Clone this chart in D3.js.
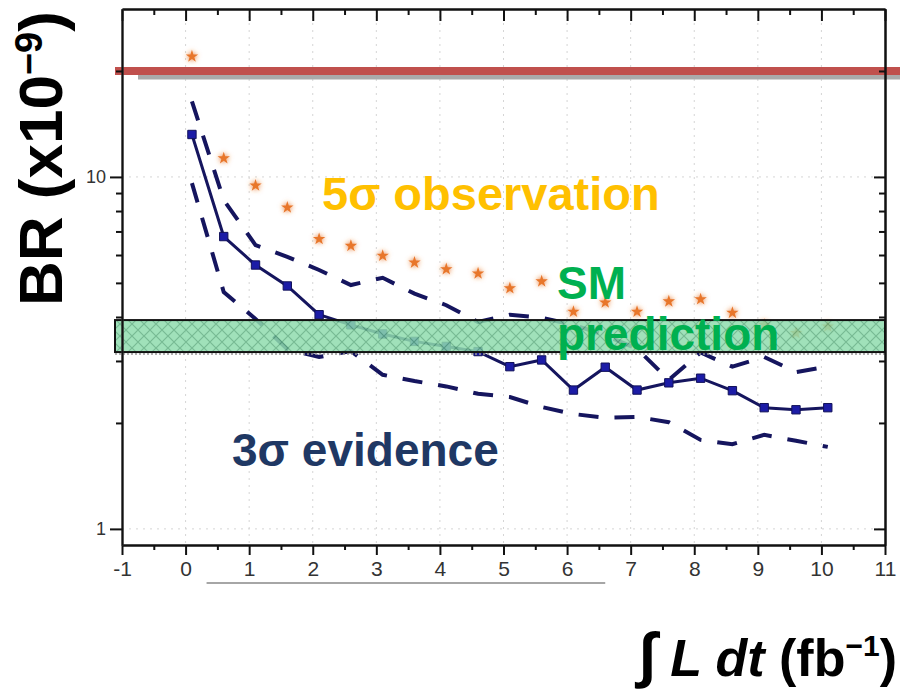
<!DOCTYPE html>
<html><head><meta charset="utf-8">
<script src="https://cdn.jsdelivr.net/npm/d3@7"></script>
<style>body{margin:0;background:#fff} svg{display:block}</style>
</head><body>
<svg id="c" width="900" height="692"></svg>
<script>
// ---- data ----
const lumi = [0.1,0.6,1.1,1.6,2.1,2.6,3.1,3.6,4.1,4.6,5.1,5.6,6.1,6.6,7.1,7.6,8.1,8.6,9.1,9.6,10.1];
const evidenceMedian = [13.2,6.77,5.62,4.90,4.06,3.80,3.58,3.41,3.30,3.19,2.89,3.02,2.48,2.88,2.48,2.60,2.68,2.47,2.21,2.18,2.21];
const evidenceUpper  = [16.4,8.6,6.4,5.93,5.44,4.93,5.17,4.66,4.32,3.87,4.06,3.98,3.80,3.55,3.25,2.65,3.17,2.89,3.08,2.79,2.89];
const evidenceLower  = [9.6,4.71,3.95,3.24,3.08,3.20,2.74,2.63,2.54,2.42,2.37,2.22,2.12,2.07,2.08,2.01,1.79,1.74,1.85,1.78,1.71];
const observation5s  = [22.0,11.3,9.45,8.19,6.66,6.37,5.97,5.71,5.47,5.32,4.83,5.05,4.14,4.40,4.14,4.43,4.49,4.11,3.80,3.60,3.76];
const smBand = [3.18, 3.92];
const limitLine = 20;
const xMajorTicks = [-1,0,1,2,3,4,5,6,7,8,9,10,11];
const xMinorTicks = [-0.5,0.5,1.5,2.5,3.5,4.5,5.5,6.5,7.5,8.5,9.5,10.5];
const yMajorTicks = [1,10];
const yMinorTicks = [2,3,4,5,6,7,8,9,20];

// ---- layout ----
const svg = d3.select('#c');
const L = 122, R = 885, T = 9, B = 545;
const x = d3.scaleLinear().domain([-1, 11]).range([L, R]);
const y = d3.scaleLog().domain([0.9, 30]).range([B, T]);

const defs = svg.append('defs');
const glow = defs.append('filter').attr('id','glow').attr('x','-1').attr('y','-1').attr('width','3').attr('height','3');
glow.append('feGaussianBlur').attr('in','SourceGraphic').attr('stdDeviation',2.5).attr('result','b');
const fm = glow.append('feMerge');
fm.append('feMergeNode').attr('in','b');
fm.append('feMergeNode').attr('in','SourceGraphic');

// grid
const grid = svg.append('g').attr('stroke','#d5d5d5').attr('stroke-width',1).attr('stroke-dasharray','2,5');
grid.selectAll('line.v').data(xMajorTicks.slice(1,-1)).join('line')
  .attr('x1',d=>x(d)).attr('x2',d=>x(d)).attr('y1',T).attr('y2',B);
grid.selectAll('line.h').data(yMajorTicks).join('line')
  .attr('x1',L).attr('x2',R).attr('y1',d=>y(d)).attr('y2',d=>y(d));

// 5 sigma stars
svg.append('g').selectAll('path').data(lumi).join('path')
  .attr('transform',(d,i)=>`translate(${x(d)},${y(observation5s[i])})`)
  .attr('d', d3.symbol(d3.symbolStar, 48))
  .attr('fill','#e8762a').attr('filter','url(#glow)');

// 3 sigma band lines
const line = (arr)=>d3.line().x((d,i)=>x(d)).y((d,i)=>y(arr[i]))(lumi);
svg.append('path').attr('d',line(evidenceUpper)).attr('fill','none')
  .attr('stroke','#15155e').attr('stroke-width',4).attr('stroke-dasharray','20,16');
svg.append('path').attr('d',line(evidenceLower)).attr('fill','none')
  .attr('stroke','#15155e').attr('stroke-width',4).attr('stroke-dasharray','20,16');
svg.append('path').attr('d',line(evidenceMedian)).attr('fill','none')
  .attr('stroke','#15155e').attr('stroke-width',3);
svg.append('g').selectAll('path').data(lumi).join('path')
  .attr('transform',(d,i)=>`translate(${x(d)},${y(evidenceMedian[i])})`)
  .attr('d', d3.symbol(d3.symbolSquare, 70))
  .attr('fill','#1c1ca6').attr('stroke','#12125a').attr('stroke-width',1);

// SM band
const pat = defs.append('pattern').attr('id','hatch').attr('patternUnits','userSpaceOnUse')
  .attr('width',12).attr('height',12);
pat.append('rect').attr('width',12).attr('height',12).attr('fill','#8fdcae');
pat.append('path').attr('d','M0,0L12,12M12,0L0,12').attr('stroke','#5fae80').attr('stroke-width',1.2);
const bandX0 = x.invert(115);
svg.append('line').attr('x1',x(bandX0)).attr('x2',x(11)).attr('y1',y(smBand[0])+2).attr('y2',y(smBand[0])+2)
  .attr('stroke','#999').attr('stroke-width',1.5).attr('stroke-dasharray','2,2');
svg.append('rect').attr('x',x(bandX0)).attr('width',x(11)-x(bandX0))
  .attr('y',y(smBand[1])).attr('height',y(smBand[0])-y(smBand[1]))
  .attr('fill','url(#hatch)').attr('fill-opacity',0.85).attr('stroke','#111').attr('stroke-width',2);

// limit line with shadow
svg.append('line').attr('x1',x(x.invert(138))).attr('x2',900).attr('y1',y(limitLine)+6).attr('y2',y(limitLine)+6)
  .attr('stroke','#aaaaaa').attr('stroke-width',5);
svg.append('line').attr('x1',x(bandX0)).attr('x2',900).attr('y1',y(limitLine)).attr('y2',y(limitLine))
  .attr('stroke','#c0504d').attr('stroke-width',8);

// axes
const fontTick = g => g.selectAll('text').attr('font-family','Liberation Sans, Arial, sans-serif').attr('font-size',21).attr('fill','#333');
const gB = svg.append('g').attr('transform',`translate(0,${B})`)
  .call(d3.axisBottom(x).tickValues(xMajorTicks).tickSize(10).tickSizeOuter(0).tickPadding(6).tickFormat(d=>String(d)));
fontTick(gB);
svg.append('g').attr('transform',`translate(0,${B})`)
  .call(d3.axisBottom(x).tickValues(xMinorTicks).tickSize(5).tickSizeOuter(0).tickFormat(''));
svg.append('g').attr('transform',`translate(0,${T})`)
  .call(d3.axisTop(x).tickValues(xMajorTicks).tickSize(-12).tickSizeOuter(0).tickFormat(''));
svg.append('g').attr('transform',`translate(0,${T})`)
  .call(d3.axisTop(x).tickValues(xMinorTicks).tickSize(-6).tickSizeOuter(0).tickFormat(''));
const gL = svg.append('g').attr('transform',`translate(${L},0)`)
  .call(d3.axisLeft(y).tickValues(yMajorTicks).tickSize(12).tickSizeOuter(0).tickPadding(4).tickFormat(d=>String(d)));
fontTick(gL);
gL.selectAll('text').attr('font-size',18);
svg.append('g').attr('transform',`translate(${L},0)`)
  .call(d3.axisLeft(y).tickValues(yMinorTicks).tickSize(6).tickSizeOuter(0).tickFormat(''));
svg.append('g').attr('transform',`translate(${R},0)`)
  .call(d3.axisRight(y).tickValues(yMajorTicks).tickSize(-11).tickSizeOuter(0).tickFormat(''));
svg.append('g').attr('transform',`translate(${R},0)`)
  .call(d3.axisRight(y).tickValues(yMinorTicks).tickSize(-6).tickSizeOuter(0).tickFormat(''));
svg.selectAll('.domain').attr('stroke','#111').attr('stroke-width',2);
svg.selectAll('.tick line').attr('stroke','#111').attr('stroke-width',2);
gL.select('.domain').attr('stroke','#555');

// decorative grey line under x axis
svg.append('line').attr('x1',x(0.33)).attr('x2',x(6.6)).attr('y1',583).attr('y2',583)
  .attr('stroke','#888').attr('stroke-width',1.5);

// annotations
const ff = 'Liberation Sans, Arial, sans-serif';
svg.append('text').attr('x',322).attr('y',210).attr('font-family',ff).attr('font-weight','bold')
  .attr('font-size',47).attr('fill','#ffc000').text('5σ observation');
svg.append('text').attr('x',557).attr('y',299).attr('font-family',ff).attr('font-weight','bold')
  .attr('font-size',46).attr('fill','#00b050').text('SM');
svg.append('text').attr('x',557).attr('y',350).attr('font-family',ff).attr('font-weight','bold')
  .attr('font-size',46).attr('fill','#00b050').text('prediction');
svg.append('text').attr('x',232).attr('y',466).attr('font-family',ff).attr('font-weight','bold')
  .attr('font-size',46).attr('fill','#1f3864').text('3σ evidence');

// y label
const yl = svg.append('text').attr('transform','translate(62,306) rotate(-90)')
  .attr('font-family',ff).attr('font-weight','bold').attr('font-size',62).attr('fill','#000');
yl.append('tspan').text('BR (x10');
yl.append('tspan').attr('font-size',38).attr('dy',-20).text('−9');
yl.append('tspan').attr('dy',20).text(')');

// x label
const xl = svg.append('text').attr('x',897).attr('y',676).attr('text-anchor','end')
  .attr('font-family',ff).attr('font-weight','bold').attr('font-size',52).attr('fill','#000');
xl.append('tspan').attr('font-style','italic').attr('font-size',62).text('∫');
xl.append('tspan').attr('font-style','italic').text(' L dt');
xl.append('tspan').text(' (fb');
xl.append('tspan').attr('font-size',30).attr('dy',-20).text('−1');
xl.append('tspan').attr('dy',20).text(')');
</script>
</body></html>
